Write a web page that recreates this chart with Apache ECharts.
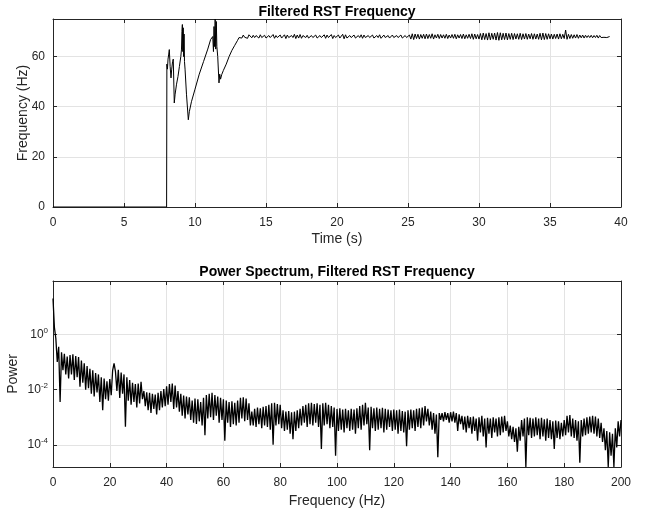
<!DOCTYPE html>
<html>
<head>
<meta charset="utf-8">
<script src="https://cdn.jsdelivr.net/npm/echarts@6/dist/echarts.min.js"></script>
<style>
html,body{margin:0;padding:0;background:#fff;}
#c{width:646px;height:511px;}
</style>
</head>
<body>
<div id="c"></div>
<script>
// ---- Top chart: filtered RST frequency vs time ----
const topTitle = 'Filtered RST Frequency';
const topXName = 'Time (s)';
const topYName = 'Frequency (Hz)';
const transientTime = [0, 8.0, 8.02, 8.06, 8.1, 8.15, 8.19, 8.25, 8.31, 8.36, 8.42, 8.47, 8.54, 8.6, 8.7, 8.8, 8.9, 9.0, 9.05, 9.08, 9.11, 9.14, 9.17, 9.2, 9.23, 9.26, 9.3, 9.4, 9.53, 9.6, 9.75, 10.0, 10.3, 10.6, 10.9, 11.1, 11.25, 11.3, 11.34, 11.38, 11.42, 11.46, 11.5, 11.54, 11.6, 11.69, 11.74, 11.8, 11.88, 12.0, 12.2, 12.4, 12.6, 12.8, 13.0, 13.1];
const transientFreq = [0, 0, 57, 55, 59, 61, 62.8, 56, 51.5, 55, 58, 59, 41.5, 45, 49, 52, 56, 60, 63, 70, 72.8, 62, 71.5, 60, 69, 58, 55, 45, 34.8, 38, 42, 47, 53, 58, 63, 66.8, 68, 62, 72, 64, 75, 63, 74, 64, 60, 49.5, 53, 51, 52.8, 54.5, 57, 60, 62.5, 64.5, 66.5, 67.6];
const plateauStart = 13.2;
const plateauStep = 0.1;
const plateauFreq = [
  68.0, 67.4, 68.6, 67.7, 68.4, 67.3, 68.7, 68.0, 67.5, 68.5,
  67.6, 68.4, 68.0, 67.4, 68.7, 67.6, 68.1, 68.5, 67.4, 68.0,
  68.4, 67.6, 68.0, 68.8, 67.3, 68.4, 67.6, 68.0, 68.6, 67.4,
  68.0, 68.7, 67.2, 68.6, 67.6, 68.0, 68.4, 67.6, 68.9, 67.2,
  68.6, 67.4, 68.8, 67.3, 68.4, 68.0, 67.6, 68.5, 67.4, 68.0,
  68.4, 67.6, 68.0, 68.6, 67.4, 68.0, 68.4, 67.6, 68.0, 68.7,
  67.3, 68.6, 67.6, 68.0, 68.8, 67.2, 68.4, 67.6, 68.0, 68.6,
  67.4, 68.0, 68.9, 67.1, 68.7, 67.4, 68.0, 68.4, 67.6, 68.0,
  68.6, 67.4, 68.0, 68.4, 67.6, 68.7, 67.3, 68.6, 67.6, 68.0,
  68.4, 67.6, 68.0, 68.6, 67.4, 68.0, 68.4, 67.6, 68.7, 67.3,
  68.0, 68.6, 67.6, 68.0, 68.4, 67.4, 68.0, 68.6, 67.6, 68.0,
  68.4, 67.6, 68.0, 68.6, 67.4, 68.0, 68.4, 67.6, 68.0, 68.6,
  67.0, 69.1, 66.8, 69.0, 67.2, 68.9, 67.0, 68.8, 67.3, 68.9,
  67.1, 69.0, 67.2, 68.8, 67.3, 69.1, 67.0, 68.7, 67.4, 68.9,
  67.2, 68.8, 67.4, 68.7, 67.3, 68.9, 67.2, 68.6, 67.4, 68.8,
  67.3, 68.9, 67.1, 68.7, 67.4, 68.8, 67.2, 69.0, 67.1, 68.7,
  67.3, 68.9, 67.2, 69.1, 66.9, 69.0, 67.1, 68.8, 67.0, 69.2,
  66.7, 69.4, 66.8, 69.2, 66.6, 69.5, 66.7, 69.3, 66.9, 69.4,
  66.6, 69.6, 66.5, 69.5, 66.7, 69.3, 66.8, 69.4, 66.7, 69.2,
  66.9, 69.3, 66.8, 69.2, 67.0, 69.1, 66.9, 69.3, 66.8, 69.1,
  67.0, 69.2, 66.9, 69.0, 67.1, 69.2, 66.9, 69.1, 67.0, 69.0,
  66.9, 69.3, 66.7, 69.4, 66.8, 69.2, 66.9, 69.1, 67.1, 69.0,
  67.0, 68.9, 67.2, 69.0, 67.0, 69.1, 67.1, 68.9, 67.2, 70.6,
  66.9, 68.9, 67.2, 68.8, 67.3, 68.7, 67.4, 68.8, 67.3, 68.6,
  67.5, 68.6, 67.4, 68.5, 67.6, 68.4, 67.6, 68.5, 67.5, 68.4,
  67.6, 68.5, 67.4, 68.4, 67.6, 68.3, 67.7, 68.4, 67.6, 68.3,
  68.0
];

// ---- Bottom chart: power spectrum ----
const botTitle = 'Power Spectrum, Filtered RST Frequency';
const botXName = 'Frequency (Hz)';
const botYName = 'Power';
const powerTicks = [1e-4, 1e-2, 1];
const specStep = 0.5; // Hz between samples
const specLog10 = [
  1.30, 0.25, -0.15, -1.00, -0.45, -2.45, -0.65, -1.30, -0.70, -1.45,
  -0.80, -1.60, -0.75, -1.45, -0.72, -1.65, -0.78, -1.55, -0.82, -1.90,
  -0.95, -1.75, -1.05, -2.00, -1.15, -1.95, -1.25, -2.15, -1.30, -2.25,
  -1.40, -2.10, -1.45, -2.45, -1.55, -2.75, -1.60, -2.35, -1.70, -2.40,
  -1.62, -2.20, -1.30, -1.05, -1.35, -2.05, -1.28, -2.30, -1.38, -2.15,
  -1.45, -3.35, -1.55, -2.40, -1.65, -2.55, -1.75, -2.45, -1.80, -2.65,
  -1.78, -2.50, -1.72, -2.35, -2.05, -2.60, -2.10, -2.75, -2.12, -2.85,
  -2.15, -2.70, -2.18, -2.90, -2.12, -2.75, -2.05, -2.65, -1.98, -2.60,
  -1.88, -2.55, -1.80, -2.45, -1.78, -2.70, -1.85, -2.65, -2.05, -2.80,
  -2.15, -2.95, -2.22, -3.05, -2.25, -2.90, -2.28, -3.10, -2.40, -3.20,
  -2.32, -3.25, -2.35, -3.15, -2.45, -3.30, -2.30, -3.65, -2.20, -3.05,
  -2.15, -3.00, -2.12, -3.10, -2.20, -2.95, -2.25, -3.20, -2.30, -3.10,
  -2.35, -3.85, -2.40, -3.20, -2.45, -3.35, -2.42, -3.25, -2.48, -3.30,
  -2.40, -3.20, -2.30, -3.05, -2.28, -3.15, -2.32, -3.10, -2.50, -3.30,
  -2.80, -3.30, -2.70, -3.35, -2.65, -3.25, -2.68, -3.40, -2.62, -3.30,
  -2.60, -3.35, -2.55, -3.45, -2.50, -4.00, -2.48, -3.30, -2.52, -3.25,
  -2.55, -3.40, -2.75, -3.50, -2.80, -3.45, -2.78, -3.60, -2.82, -3.80,
  -2.80, -3.50, -2.75, -3.40, -2.70, -3.30, -2.60, -3.20, -2.55, -3.35,
  -2.50, -3.25, -2.48, -3.30, -2.52, -3.20, -2.50, -3.35, -2.55, -4.15,
  -2.50, -3.30, -2.48, -3.25, -2.55, -3.40, -2.60, -3.35, -2.65, -4.40,
  -2.70, -3.50, -2.68, -3.45, -2.72, -3.55, -2.70, -3.40, -2.75, -3.50,
  -2.70, -3.45, -2.72, -3.60, -2.68, -3.40, -2.60, -3.45, -2.55, -3.30,
  -2.48, -3.25, -2.65, -4.20, -2.62, -3.40, -2.68, -3.50, -2.65, -3.45,
  -2.70, -3.40, -2.66, -3.55, -2.70, -3.45, -2.72, -3.35, -2.75, -3.50,
  -2.72, -3.45, -2.75, -3.60, -2.72, -3.50, -2.78, -3.55, -2.80, -4.05,
  -2.75, -3.45, -2.72, -3.40, -2.75, -3.50, -2.70, -3.35, -2.68, -3.40,
  -2.65, -3.30, -2.60, -3.15, -2.70, -3.30, -2.80, -3.45, -2.85, -3.60,
  -2.90, -4.45, -2.85, -3.10, -2.85, -3.15, -2.82, -3.10, -2.85, -3.20,
  -2.82, -3.15, -2.80, -3.20, -2.85, -3.50, -2.90, -3.25, -2.95, -3.45,
  -2.98, -3.55, -2.95, -3.40, -3.00, -3.60, -2.98, -3.50, -3.05, -3.85,
  -3.00, -3.55, -2.95, -3.70, -3.05, -4.10, -3.02, -3.60, -3.05, -3.75,
  -3.00, -3.55, -3.05, -3.70, -3.00, -3.65, -2.98, -3.55, -2.95, -3.50,
  -3.15, -3.70, -3.30, -3.80, -3.35, -3.90, -3.40, -4.25, -3.35, -3.85,
  -3.10, -3.70, -3.05, -4.80, -3.00, -3.65, -3.02, -3.75, -3.05, -3.70,
  -3.00, -3.65, -3.05, -3.80, -3.02, -3.70, -3.08, -3.85, -3.05, -3.75,
  -3.10, -3.80, -3.15, -4.15, -3.12, -3.75, -3.15, -3.80, -3.20, -3.70,
  -3.10, -3.65, -2.95, -3.55, -2.92, -3.70, -3.05, -3.75, -3.10, -3.85,
  -3.15, -4.65, -3.10, -3.70, -3.05, -3.65, -3.00, -3.60, -2.98, -3.55,
  -2.95, -3.60, -2.98, -3.70, -3.05, -3.75, -3.20, -3.90, -3.40, -4.20,
  -3.50, -4.80, -3.55, -4.40, -3.60, -4.80, -3.40, -4.10, -3.15, -3.70,
  -3.10
];

// ---- build series data ----
const topData = [];
for (let i = 0; i < transientTime.length; i++) topData.push([transientTime[i], transientFreq[i]]);
for (let i = 0; i < plateauFreq.length; i++) topData.push([+(plateauStart + i * plateauStep).toFixed(2), plateauFreq[i]]);
const specData = specLog10.map((e, i) => [i * specStep, Math.pow(10, e)]);

const TXT = '#262626';
const GRIDC = '#e3e3e3';
const FONT = 'Liberation Sans, Arial, Helvetica, sans-serif';

function boxAxisCommon() {
  return {
    axisLine: { show: true, onZero: false, lineStyle: { color: TXT, width: 1 } },
    axisTick: { show: true, inside: true, length: 4, lineStyle: { color: TXT, width: 1 } },
    axisLabel: { color: TXT, fontSize: 12, fontFamily: FONT, margin: 10 },
    splitLine: { show: false },
    nameMoveOverlap: false,
    nameTextStyle: { color: TXT, fontSize: 14, fontFamily: FONT }
  };
}
function logLabel(v) {
  const e = Math.log10(v);
  const r = Math.round(e);
  if (Math.abs(e - r) > 1e-6) return '';
  return '{b|10}{s|' + r + '}';
}
const logMin = Math.pow(10, -4.805);
const logMax = Math.pow(10, 1.935);

const chart = echarts.init(document.getElementById('c'), null, { renderer: 'canvas' });
chart.setOption({
  animation: false,
  backgroundColor: '#fff',
  title: [
    { text: topTitle, left: 337, top: 5, textAlign: 'center', padding: 0,
      textStyle: { fontSize: 14, fontWeight: 'bold', color: '#000', fontFamily: FONT } },
    { text: botTitle, left: 337, top: 265, textAlign: 'center', padding: 0,
      textStyle: { fontSize: 14, fontWeight: 'bold', color: '#000', fontFamily: FONT } }
  ],
  grid: [
    { left: 53, right: 25, top: 19, height: 188, containLabel: false, outerBoundsMode: 'none' },
    { left: 53, right: 25, top: 281, height: 186, containLabel: false, outerBoundsMode: 'none' }
  ],
  xAxis: [
    Object.assign(boxAxisCommon(), {
      type: 'value', gridIndex: 0, min: 0, max: 40, interval: 5, position: 'bottom',
      name: topXName, nameLocation: 'middle', nameGap: 25,
      splitLine: { show: true, lineStyle: { color: GRIDC, width: 1 } }
    }),
    Object.assign(boxAxisCommon(), {
      type: 'value', gridIndex: 0, min: 0, max: 40, interval: 5, position: 'top',
      axisLabel: { show: false }
    }),
    Object.assign(boxAxisCommon(), {
      type: 'value', gridIndex: 1, min: 0, max: 200, interval: 20, position: 'bottom',
      name: botXName, nameLocation: 'middle', nameGap: 27,
      splitLine: { show: true, lineStyle: { color: GRIDC, width: 1 } }
    }),
    Object.assign(boxAxisCommon(), {
      type: 'value', gridIndex: 1, min: 0, max: 200, interval: 20, position: 'top',
      axisLabel: { show: false }
    })
  ],
  yAxis: [
    Object.assign(boxAxisCommon(), {
      type: 'value', gridIndex: 0, min: 0, max: 75, interval: 20, position: 'left',
      name: topYName, nameLocation: 'middle', nameGap: 23,
      axisLabel: { color: TXT, fontSize: 12, fontFamily: FONT, margin: 8, showMaxLabel: false,
        formatter: v => (v % 20 === 0 ? String(v) : '') },
      splitLine: { show: true, lineStyle: { color: GRIDC, width: 1 } }
    }),
    Object.assign(boxAxisCommon(), {
      type: 'value', gridIndex: 0, min: 0, max: 75, interval: 20, position: 'right',
      axisLabel: { show: false }
    }),
    Object.assign(boxAxisCommon(), {
      type: 'log', logBase: 10, gridIndex: 1, min: logMin, max: logMax, position: 'left',
      name: botYName, nameLocation: 'middle', nameGap: 33,
      axisTick: { show: true, inside: true, length: 4, lineStyle: { color: TXT, width: 1 }, customValues: powerTicks },
      axisLabel: {
        color: TXT, fontFamily: FONT, margin: 5, formatter: logLabel, customValues: powerTicks,
        rich: {
          b: { fontSize: 12, lineHeight: 16, color: TXT, fontFamily: FONT },
          s: { fontSize: 8, lineHeight: 8, verticalAlign: 'top', color: TXT, fontFamily: FONT }
        }
      },
      splitLine: { show: true, lineStyle: { color: GRIDC, width: 1 } }
    }),
    Object.assign(boxAxisCommon(), {
      type: 'log', logBase: 10, gridIndex: 1, min: logMin, max: logMax, position: 'right',
      axisTick: { show: true, inside: true, length: 4, lineStyle: { color: TXT, width: 1 }, customValues: powerTicks },
      axisLabel: { show: false }
    })
  ],
  series: [
    { type: 'line', xAxisIndex: 0, yAxisIndex: 0, data: topData, showSymbol: false, symbol: 'none',
      lineStyle: { color: '#000', width: 1 }, clip: true, silent: true },
    { type: 'line', xAxisIndex: 2, yAxisIndex: 2, data: specData, showSymbol: false, symbol: 'none',
      lineStyle: { color: '#000', width: 1.3 }, clip: true, silent: true }
  ]
});
</script>
</body>
</html>
